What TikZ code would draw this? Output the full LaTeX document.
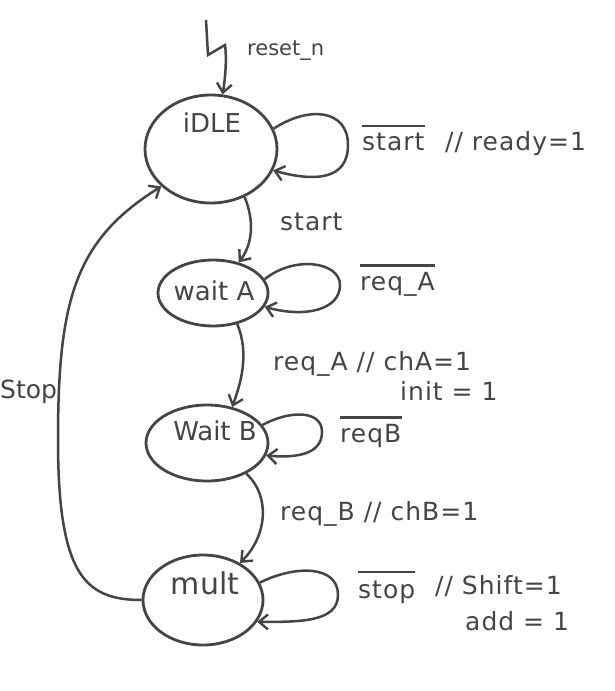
\documentclass[tikz,border=0pt]{standalone}
\usepackage{fontspec}
\setmainfont{DejaVu Sans}
\usetikzlibrary{arrows.meta,shapes.geometric}
\definecolor{ink}{HTML}{454545}
\begin{document}
\begin{tikzpicture}[x=1pt,y=-1pt,
  state/.style={draw=ink,line width=2.8pt,ellipse,inner sep=0pt},
  stxt/.style={text=ink,font=\fontsize{26}{30}\selectfont,inner sep=0pt,anchor=center},
  lbl/.style={text=ink,font=\fontsize{25}{28}\selectfont\addfontfeature{LetterSpace=4},inner sep=0pt,anchor=base west},
  edge/.style={draw=ink,line width=2.5pt,-{Straight Barb[length=9pt,width=15pt,line width=2.4pt]}},
  ovl/.style={draw=ink,line width=2.2pt}]
\useasboundingbox (0,0) rectangle (614,691);
\fill[white] (0,0) rectangle (614,691);

% states
\node[state,minimum width=132pt,minimum height=108pt] (idle) at (211,149) {};
\node[state,minimum width=110pt,minimum height=66pt] (waitA) at (213,293) {};
\node[state,minimum width=122pt,minimum height=76pt] (waitB) at (207,443) {};
\node[state,minimum width=120pt,minimum height=90pt] (mult) at (203,600) {};

\node[stxt] (idleT) at (212,123) {iDLE};
\node[stxt] (waitAT) at (214,291) {wait A};
\node[stxt] (waitBT) at (215,431) {Wait B};
\node[stxt,font=\fontsize{30}{34}\selectfont] (multT) at (205,583) {mult};

% reset
\coordinate (r0) at (206,20);
\coordinate (r1) at (208,55);
\coordinate (r2) at (225,45);
\draw[edge] (r0) -- (r1) -- (r2) .. controls (227,60) and (225,80) .. (idle.78);
\node[lbl,font=\fontsize{21}{24}\selectfont] (lreset) at (247,55) {reset\_n};

% self loops
\draw[edge] (idle.18) .. controls (310,105) and (348,110) .. (348,145)
  .. controls (348,180) and (315,182) .. (idle.-19);
\draw[edge] (waitA.15) .. controls (295,255) and (340,262) .. (340,285)
  .. controls (340,310) and (305,318) .. (waitA.-15);
\draw[edge] (waitB.18) .. controls (290,410) and (322,410) .. (322,432)
  .. controls (322,455) and (295,458) .. (waitB.-12);
\draw[edge] (mult.17) .. controls (295,565) and (338,565) .. (338,595)
  .. controls (338,622) and (300,622) .. (mult.-22);

% transitions
\draw[edge] (idle.-55) .. controls (255,222) and (252,245) .. (waitA.50);
\draw[edge] (waitA.-52) .. controls (250,355) and (240,385) .. (waitB.55);
\draw[edge] (waitB.-38) .. controls (270,495) and (268,535) .. (mult.45);
\draw[edge] (mult.180) .. controls (85,600) and (58,575) .. (58,440)
  .. controls (58,300) and (75,240) .. (idle.-143);

% labels
\node[lbl] (lst1) at (362,150) {start};
\draw[ovl] ([yshift=6pt]lst1.north west) -- ([yshift=6pt]lst1.north east);
\node[lbl] (lst2) at (445,150) {// ready=1};

\node[lbl] (lstart) at (280,230) {start};

\node[lbl] (lra1) at (360,290) {req\_A};
\draw[ovl] ([yshift=6pt]lra1.north west) -- ([yshift=6pt]lra1.north east);

\node[lbl] (lra2) at (273,370) {req\_A // chA=1};
\node[lbl] (lra3) at (400,400) {init = 1};

\node[lbl] (lrb1) at (340,442) {reqB};
\draw[ovl] ([yshift=6pt]lrb1.north west) -- ([yshift=6pt]lrb1.north east);

\node[lbl] (lrb2) at (280,520) {req\_B // chB=1};

\node[lbl] (lsp1) at (358,598) {stop};
\draw[ovl] ([yshift=8pt]lsp1.north west) -- ([yshift=8pt]lsp1.north east);
\node[lbl] (lsp2) at (435,594) {// Shift=1};
\node[lbl] (lsp3) at (465,630) {add = 1};

\node[lbl,font=\fontsize{25}{28}\selectfont] (lstop) at (0,398) {Stop};
\end{tikzpicture}
\end{document}
